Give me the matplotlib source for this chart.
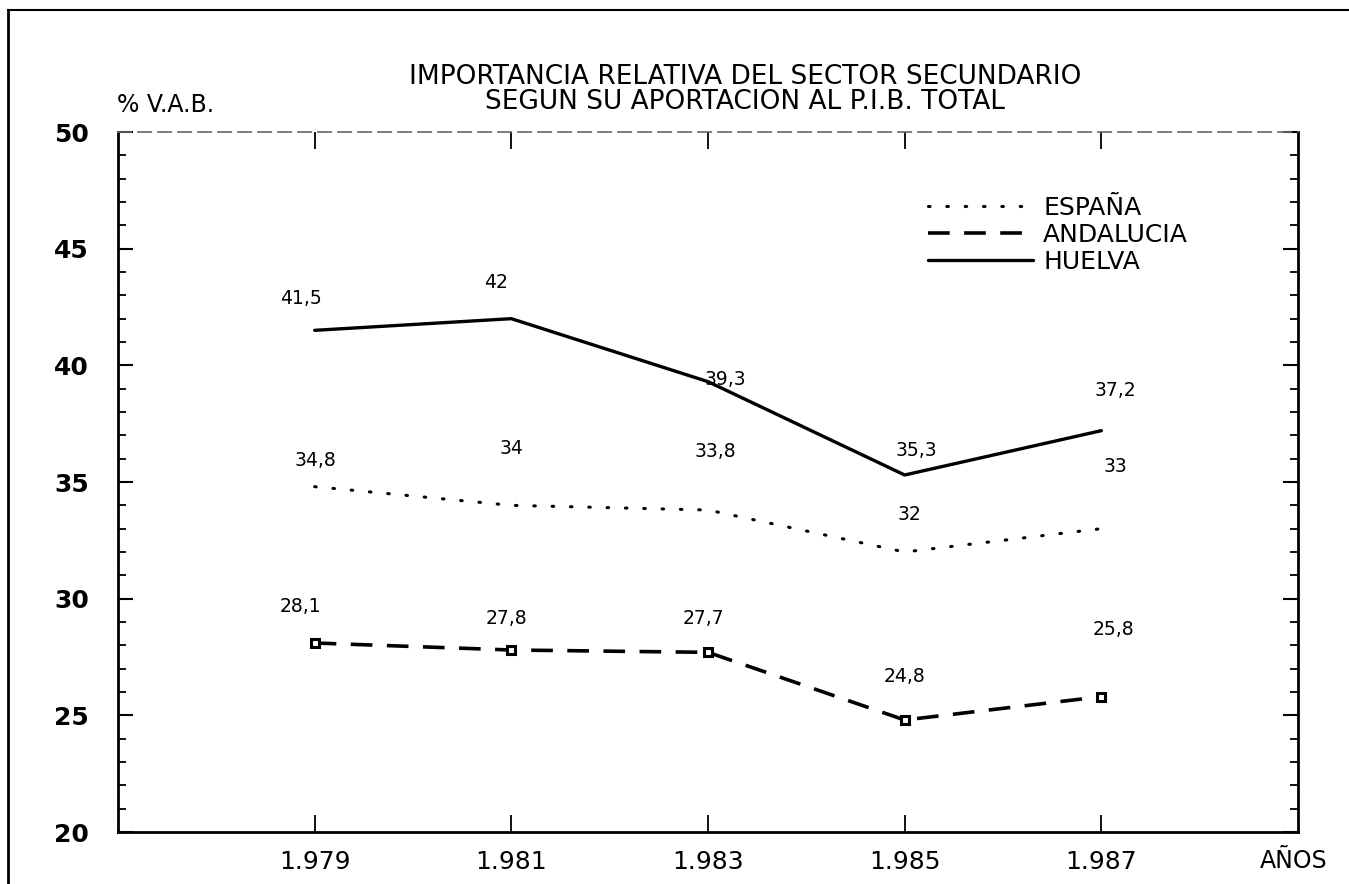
import matplotlib
matplotlib.use("Agg")
import matplotlib.pyplot as plt
from matplotlib.lines import Line2D
from matplotlib.ticker import MultipleLocator

years = [1979, 1981, 1983, 1985, 1987]
year_labels = ["1.979", "1.981", "1.983", "1.985", "1.987"]
espana = [34.8, 34.0, 33.8, 32.0, 33.0]
andalucia = [28.1, 27.8, 27.7, 24.8, 25.8]
huelva = [41.5, 42.0, 39.3, 35.3, 37.2]
espana_txt = ["34,8", "34", "33,8", "32", "33"]
andalucia_txt = ["28,1", "27,8", "27,7", "24,8", "25,8"]
huelva_txt = ["41,5", "42", "39,3", "35,3", "37,2"]

# label offsets in pixels (dx, dy) -- layout only
huelva_off = [(-14, 32), (-15, 36), (17, 2), (12, 25), (14, 40)]
espana_off = [(1, 26), (0, 57), (7, 59), (5, 37), (14, 62)]
andalucia_off = [(-14, 37), (-5, 32), (-5, 34), (0, 44), (12, 67)]

W, H = 1349, 884
fig = plt.figure(figsize=(W / 100, H / 100), dpi=100)
fig.patch.set_facecolor("white")
ax = fig.add_axes([118 / W, 1 - 832 / H, (1298 - 118) / W, (832 - 132) / H])

narrow = ["Liberation Sans Narrow", "DejaVu Sans"]
base = ["DejaVu Sans"]

ax.plot(years, huelva, color="black", lw=2.4, solid_capstyle="round", label="HUELVA")
ax.plot(years, espana, color="black", lw=2.2, linestyle=(0, (0.5, 5.5)),
        dash_capstyle="round", label="ESPAÑA")
ax.plot(years, andalucia, color="black", lw=2.6, linestyle=(0, (6, 4)),
        marker="s", markersize=6, markerfacecolor="white", markeredgewidth=2.2,
        markeredgecolor="black", label="ANDALUCIA")

for vals, txts, offs in ((huelva, huelva_txt, huelva_off),
                         (espana, espana_txt, espana_off),
                         (andalucia, andalucia_txt, andalucia_off)):
    for x, y, t, (dx, dy) in zip(years, vals, txts, offs):
        ax.annotate(t, (x, y), xytext=(dx, dy), textcoords="offset pixels",
                    ha="center", va="center", fontsize=13.5, family=base)

ax.set_xlim(1977, 1989)
ax.set_ylim(20, 50)
ax.set_xticks(years)
ax.set_xticklabels(year_labels, fontsize=18, family=base)
ax.yaxis.set_major_locator(MultipleLocator(5))
ax.yaxis.set_minor_locator(MultipleLocator(1))
for lab in ax.get_yticklabels():
    lab.set_fontweight("bold")
    lab.set_fontsize(18)
ax.tick_params(axis="y", which="major", direction="in", length=11, width=1.5,
               right=True, pad=21)
ax.tick_params(axis="y", which="minor", direction="in", length=6, width=1.3, right=True)
ax.tick_params(axis="x", which="major", direction="in", length=12, width=1.3,
               top=True, pad=13)
for s in ("left", "bottom", "right"):
    ax.spines[s].set_linewidth(2)
ax.spines["top"].set_linewidth(1.2)
ax.spines["top"].set_color("#666666")
ax.spines["top"].set_linestyle((0, (8, 4)))

fig.text(1294 / W, 1 - 861 / H, "AÑOS", fontsize=17, family=base,
         ha="center", va="center")
fig.text(117 / W, 1 - 105 / H, "% V.A.B.", fontsize=17, family=base, ha="left", va="center")

fig.text(745 / W, 1 - 77 / H, "IMPORTANCIA RELATIVA DEL SECTOR SECUNDARIO",
         fontsize=19, family=narrow, ha="center", va="center")
fig.text(745 / W, 1 - 102 / H, "SEGUN SU APORTACION AL P.I.B. TOTAL",
         fontsize=19, family=narrow, ha="center", va="center")

handles, labels = ax.get_legend_handles_labels()
order = [1, 2, 0]
leg = ax.legend([handles[i] for i in order], [labels[i] for i in order],
                loc="upper left", bbox_to_anchor=((928 - 118) / 1180, (832 - 196) / 700),
                frameon=False, handlelength=4.2, handletextpad=0.4, labelspacing=0.12,
                borderpad=0, borderaxespad=0,
                prop={"family": base, "size": 18})
for h in leg.legend_handles:
    h.set_marker("")

# outer frame
fig.add_artist(Line2D([8 / W, 8 / W], [0, 1 - 10 / H], color="black", lw=2))
fig.add_artist(Line2D([8 / W, 1], [1 - 10 / H, 1 - 10 / H], color="black", lw=1.5))

fig.savefig("out.png", dpi=100, facecolor="white")
